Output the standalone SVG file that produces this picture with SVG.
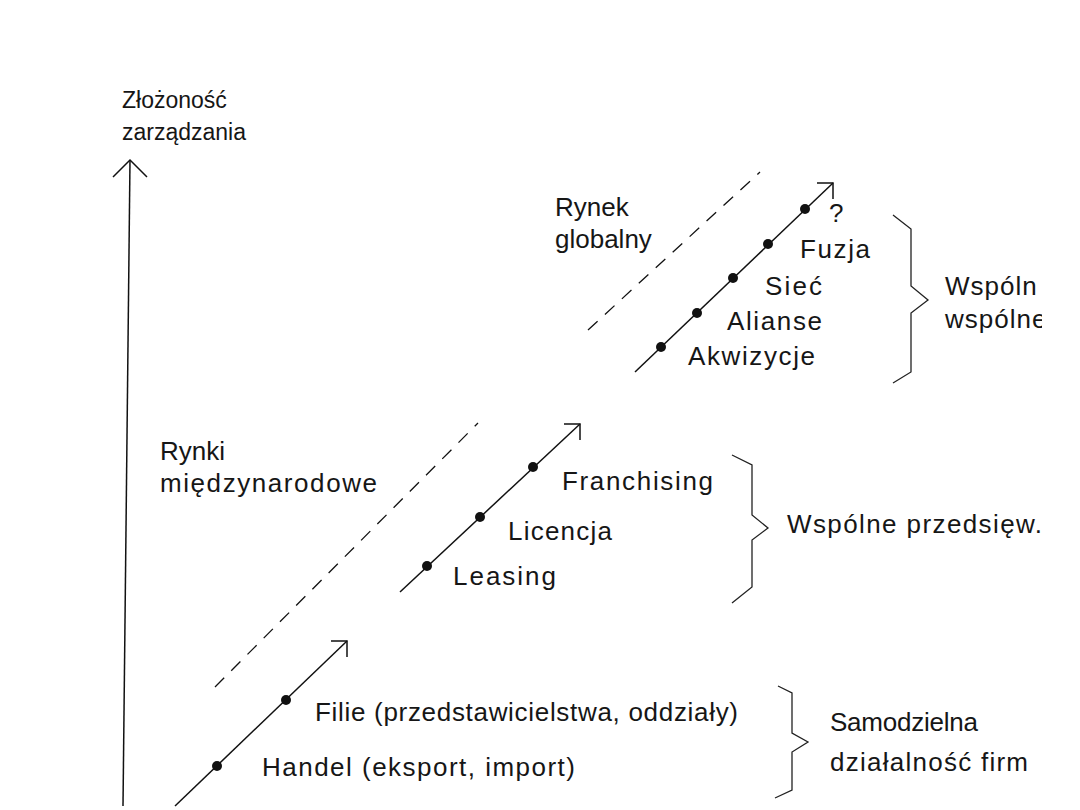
<svg xmlns="http://www.w3.org/2000/svg" width="1080" height="810" viewBox="0 0 1080 810">
  <style>
    text { font-family: "Liberation Sans", Arial, sans-serif; font-size: 26px; fill: #161616; }
    text.ax { font-size: 23px; }
    .ln { stroke: #111; stroke-width: 1.5; fill: none; }
    .dash { stroke: #111; stroke-width: 1.3; fill: none; stroke-dasharray: 13 10; }
    .brace { stroke: #222; stroke-width: 1.3; fill: none; stroke-linejoin: miter; }
    .dot { fill: #111; }
  </style>
  <defs>
    <clipPath id="edge"><rect x="0" y="0" width="1042" height="810"/></clipPath>
  </defs>
  <rect width="1080" height="810" fill="#fff"/>

  <g id="axis">
    <line class="ln" x1="130" y1="160" x2="123" y2="806"/>
    <polyline class="ln" points="113,177 130,160 147,177"/>
    <text class="ax" x="122" y="108">Złożoność</text>
    <text class="ax" x="122" y="140">zarządzania</text>
  </g>

  <g id="connectors">
    <line class="dash" x1="588" y1="330" x2="760" y2="172"/>
    <line class="dash" x1="215" y1="687" x2="478" y2="423"/>
  </g>

  <g id="level-global">
    <line class="ln" x1="635" y1="372" x2="833" y2="183"/>
    <polyline class="ln" points="817,183 833,183 833,199"/>
    <circle class="dot" cx="805" cy="209" r="5"/>
    <circle class="dot" cx="768" cy="244" r="5"/>
    <circle class="dot" cx="733" cy="278" r="5"/>
    <circle class="dot" cx="697" cy="313" r="5"/>
    <circle class="dot" cx="661" cy="347" r="5"/>
    <text x="555" y="216">Rynek</text>
    <text x="555" y="248">globalny</text>
    <text x="829" y="222">?</text>
    <text x="800" y="258" textLength="70" lengthAdjust="spacing">Fuzja</text>
    <text x="765" y="295" textLength="57" lengthAdjust="spacing">Sieć</text>
    <text x="727" y="330" textLength="95" lengthAdjust="spacing">Alianse</text>
    <text x="688" y="365" textLength="127" lengthAdjust="spacing">Akwizycje</text>
    <polyline class="brace" points="893,215 911,229 911,286 928,300 911,313 911,372 893,383"/>
    <g clip-path="url(#edge)">
      <text x="945" y="295" letter-spacing="1">Wspóln</text>
      <text x="945" y="328" letter-spacing="1">wspólne</text>
    </g>
  </g>

  <g id="level-international">
    <line class="ln" x1="400" y1="592" x2="580" y2="424"/>
    <polyline class="ln" points="564,424 580,424 580,440"/>
    <circle class="dot" cx="533" cy="467" r="5"/>
    <circle class="dot" cx="480" cy="517" r="5"/>
    <circle class="dot" cx="427" cy="566" r="5"/>
    <text x="160" y="460">Rynki</text>
    <text x="160" y="492" textLength="217" lengthAdjust="spacing">międzynarodowe</text>
    <text x="562" y="490" textLength="151" lengthAdjust="spacing">Franchising</text>
    <text x="508" y="540" textLength="104" lengthAdjust="spacing">Licencja</text>
    <text x="453" y="585" textLength="103" lengthAdjust="spacing">Leasing</text>
    <polyline class="brace" points="732,455 752,465 752,515 768,528 752,540 752,587 732,603"/>
    <text x="787" y="533" textLength="255" lengthAdjust="spacing">Wspólne przedsięw.</text>
  </g>

  <g id="level-own">
    <line class="ln" x1="175" y1="806" x2="347" y2="641"/>
    <polyline class="ln" points="331,641 347,641 347,657"/>
    <circle class="dot" cx="286" cy="700" r="5"/>
    <circle class="dot" cx="217" cy="766" r="5"/>
    <text x="315" y="721" textLength="423" lengthAdjust="spacing">Filie (przedstawicielstwa, oddziały)</text>
    <text x="262" y="776" textLength="313" lengthAdjust="spacing">Handel (eksport, import)</text>
    <polyline class="brace" points="778,686 792,693 792,733 808,742 792,752 792,790 775,798"/>
    <text x="830" y="731" textLength="148" lengthAdjust="spacing">Samodzielna</text>
    <text x="830" y="771" textLength="198" lengthAdjust="spacing">działalność firm</text>
  </g>
</svg>
